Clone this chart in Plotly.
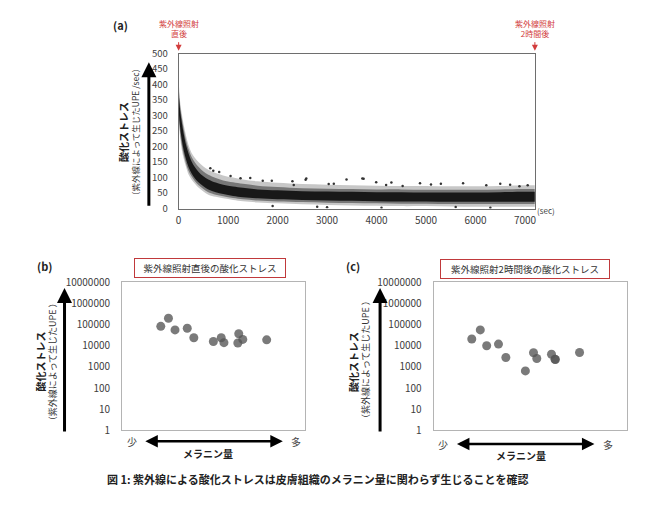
import plotly.graph_objects as go

W, H = 650, 515
FONT = "Noto Sans CJK JP"

# ---------------- data (a): UPE decay cloud, envelopes ----------------
t_env = [0, 30, 60, 100, 150, 200, 260, 330, 400, 500, 600, 750, 900, 1100, 1300,
         1600, 2000, 2500, 3000, 3500, 4000, 4500, 5000, 5500, 6000, 6500, 7000, 7200]
outer_upper = [415, 345, 310, 272, 235, 205, 180, 163, 150, 136, 125, 115, 107, 100, 94,
               88, 83, 79, 77, 75, 74, 73, 73, 72, 72, 73, 75, 75]
mid_upper = [395, 332, 296, 258, 220, 192, 167, 149, 135, 120, 109, 99, 91, 85, 80,
             74, 70, 66, 64, 63, 62, 62, 61, 61, 61, 62, 63, 63]
core_upper = [375, 318, 282, 243, 205, 178, 153, 133, 119, 104, 94, 84, 77, 71, 67,
              62, 59, 56, 55, 54, 53, 53, 52, 52, 52, 53, 54, 54]
core_lower = [318, 262, 226, 190, 158, 134, 114, 97, 85, 72, 62, 53, 47, 41, 37,
              33, 30, 28, 26, 25, 24, 23, 23, 22, 22, 22, 22, 22]
mid_lower = [300, 245, 208, 175, 145, 122, 104, 88, 76, 63, 53, 45, 40, 34, 30,
             26, 23, 21, 19, 18, 17, 16, 16, 15, 15, 15, 15, 15]
outer_lower = [285, 230, 192, 162, 134, 110, 94, 80, 68, 55, 45, 38, 33, 28, 24,
               20, 17, 14, 12, 10, 9, 8, 8, 7, 6, 6, 6, 6]
# sparse outlier points
out_t = [1447, 1883, 2566, 3136, 3739, 4878, 5749, 6218, 6888, 7055, 820, 1050, 2300, 4300, 5300,
         2580, 3393, 3713, 3993, 3033, 2327, 4193, 4527, 640, 700, 1250, 1700, 5100, 6500, 6700,
         3000, 4100, 5600, 6300, 1900, 2800]
out_v = [99, 90, 93, 80, 96, 82, 82, 75, 72, 75, 118, 105, 88, 84, 80,
         97, 94, 97, 85, 79, 76, 76, 73, 130, 122, 98, 90, 78, 80, 77,
         4, 3, 5, 3, 8, 6]
a_xticks = [0, 1000, 2000, 3000, 4000, 5000, 6000, 7000]
a_yticks = [0, 50, 100, 150, 200, 250, 300, 350, 400, 450, 500]

# ---------------- data (b), (c): melanin vs UPE ----------------
b_x = [21.2, 25.4, 29.0, 35.7, 39.3, 50.0, 54.3, 55.8, 63.9, 63.4, 66.1, 79.2]
b_y = [83000, 200000, 56000, 67000, 24000, 16000, 24000, 14000, 37000, 13500, 20000, 19000]
c_x = [19.7, 24.1, 27.4, 33.5, 37.3, 47.4, 51.6, 53.3, 60.9, 62.7, 62.9, 75.4]
c_y = [21000, 56000, 10000, 12000, 2800, 650, 4700, 2500, 4000, 2300, 2250, 4800]
log_ticks = [1, 10, 100, 1000, 10000, 100000, 1000000, 10000000]
log_text = [str(v) for v in log_ticks]


def px(x):
    return x / W


def py(y):
    return 1 - y / H


fig = go.Figure()


def band(lower, upper, color):
    fig.add_trace(go.Scatter(x=t_env, y=lower, mode="lines", line=dict(width=0, shape="spline"),
                             xaxis="x", yaxis="y", showlegend=False, hoverinfo="skip"))
    fig.add_trace(go.Scatter(x=t_env, y=upper, mode="lines", line=dict(width=0, shape="spline"),
                             fill="tonexty", fillcolor=color,
                             xaxis="x", yaxis="y", showlegend=False, hoverinfo="skip"))


band(outer_lower, outer_upper, "rgba(0,0,0,0.22)")
band(mid_lower, mid_upper, "rgba(0,0,0,0.40)")
band(core_lower, core_upper, "rgba(0,0,0,0.80)")
fig.add_trace(go.Scatter(x=out_t, y=out_v, mode="markers",
                         marker=dict(size=2.5, color="#333"),
                         xaxis="x", yaxis="y", showlegend=False))

# (b), (c)
fig.add_trace(go.Scatter(x=b_x, y=b_y, mode="markers",
                         marker=dict(size=9, color="rgba(85,85,85,0.78)", line=dict(width=0)),
                         xaxis="x2", yaxis="y2", showlegend=False))
fig.add_trace(go.Scatter(x=c_x, y=c_y, mode="markers",
                         marker=dict(size=9, color="rgba(85,85,85,0.78)", line=dict(width=0)),
                         xaxis="x3", yaxis="y3", showlegend=False))

tickfont = dict(family=FONT, size=10, color="#404040")

fig.update_layout(
    width=W, height=H, margin=dict(l=0, r=0, t=0, b=0),
    paper_bgcolor="white", plot_bgcolor="white",
    font=dict(family=FONT),
    xaxis=dict(domain=[px(177), px(536)], anchor="y", range=[0, 7200],
               tickvals=a_xticks, showgrid=False, zeroline=False,
               showline=True, mirror=True, linecolor="#6e6e6e", linewidth=1,
               ticks="", tickfont=tickfont, ticklabelstandoff=2),
    yaxis=dict(domain=[py(206), py(46)], anchor="x", range=[0, 500],
               tickvals=a_yticks, showgrid=False, zeroline=False,
               showline=True, mirror=True, linecolor="#6e6e6e", linewidth=1,
               ticks="", tickfont=dict(family=FONT, size=9.5, color="#404040"),
               ticklabelstandoff=8),
    xaxis2=dict(domain=[px(120), px(304)], anchor="y2", range=[0, 100],
                showticklabels=False, showgrid=False, zeroline=False,
                showline=True, mirror=True, linecolor="#b4b4b4", linewidth=1, ticks=""),
    yaxis2=dict(domain=[py(435), py(282)], anchor="x2", type="log", range=[0, 7],
                tickvals=log_ticks, ticktext=log_text, showgrid=False, zeroline=False,
                showline=True, mirror=True, linecolor="#b4b4b4", linewidth=1, ticks="",
                tickfont=tickfont, ticklabelstandoff=9),
    xaxis3=dict(domain=[px(434), px(629)], anchor="y3", range=[0, 100],
                showticklabels=False, showgrid=False, zeroline=False,
                showline=True, mirror=True, linecolor="#b4b4b4", linewidth=1, ticks=""),
    yaxis3=dict(domain=[py(435), py(282)], anchor="x3", type="log", range=[0, 7],
                tickvals=log_ticks, ticktext=log_text, showgrid=False, zeroline=False,
                showline=True, mirror=True, linecolor="#b4b4b4", linewidth=1, ticks="",
                tickfont=tickfont, ticklabelstandoff=9),
)

ann = []


def text(x, y, s, size=10, color="#222", bold=False, angle=0, xanchor="center", **kw):
    if bold:
        s = "<b>" + s + "</b>"
    ann.append(dict(x=px(x), y=py(y), xref="paper", yref="paper", text=s, showarrow=False,
                    font=dict(family=FONT, size=size, color=color), textangle=angle,
                    xanchor=xanchor, yanchor="middle", **kw))


def arrow(x0, y0, x1, y1, width=3, color="black", head=2, size=1.0, both=False):
    ann.append(dict(x=px(x1), y=py(y1), xref="paper", yref="paper", ax=x0 - x1, ay=y0 - y1,
                    axref="pixel", ayref="pixel", text="", showarrow=True,
                    arrowhead=head, arrowsize=size, arrowwidth=width, arrowcolor=color,
                    startarrowhead=head, startarrowsize=size,
                    arrowside="end+start" if both else "end"))


RED = "#d23c3c"
# panel (a)
text(118, 17, "(a)", size=11, bold=True)
text(177, 20.5, "紫外線照射<br>直後", size=8, color=RED)
text(536, 20.5, "紫外線照射<br>2時間後", size=8, color=RED)
arrow(177, 33, 177, 43, width=1, color=RED, head=2, size=1.2)
arrow(536, 33, 536, 43, width=1, color=RED, head=2, size=1.2)
text(547, 208, "(sec)", size=8, color="#404040", xanchor="center")
arrow(147, 200, 147, 55, width=3)
text(121, 127, "酸化ストレス", size=10, bold=True, angle=-90)
text(133, 127, "（紫外線によって生じたUPE /sec）", size=8.5, color="#333", angle=-90)

# panel (b)
text(42, 265, "(b)", size=11, bold=True)
ann.append(dict(x=px(208.5), y=py(267), xref="paper", yref="paper",
                text="紫外線照射直後の酸化ストレス", showarrow=False,
                font=dict(family=FONT, size=9.5, color="#333"),
                bordercolor="#c0393b", borderwidth=1, borderpad=2, bgcolor="white",
                width=146, height=14, xanchor="center", yanchor="middle"))
arrow(62, 433, 62, 288, width=3)
text(38, 364, "酸化ストレス", size=10, bold=True, angle=-90)
text(50, 364, "（紫外線によって生じたUPE ）", size=9, color="#333", angle=-90)
text(130, 446, "少", size=10, color="#444")
arrow(143, 446, 282, 446, width=2.5, both=True, size=1.0)
text(295, 446, "多", size=10, color="#444")
text(207, 459, "メラニン量", size=10, bold=True)

# panel (c)
text(353, 265, "(c)", size=11, bold=True)
ann.append(dict(x=px(526.5), y=py(268), xref="paper", yref="paper",
                text="紫外線照射2時間後の酸化ストレス", showarrow=False,
                font=dict(family=FONT, size=9.5, color="#333"),
                bordercolor="#c0393b", borderwidth=1, borderpad=2, bgcolor="white",
                width=164, height=14, xanchor="center", yanchor="middle"))
arrow(380, 433, 380, 288, width=3)
text(353, 364, "酸化ストレス", size=10, bold=True, angle=-90)
text(366, 362, "（紫外線によって生じたUPE ）", size=9, color="#333", angle=-90)
text(443, 449, "少", size=10, color="#444")
arrow(457, 449, 596, 449, width=2.5, both=True, size=1.0)
text(610, 449, "多", size=10, color="#444")
text(522, 461, "メラニン量", size=10, bold=True)

# caption
text(103, 485, "図 1: 紫外線による酸化ストレスは皮膚組織のメラニン量に関わらず生じることを確認",
     size=11, bold=True, color="#222", xanchor="left")

fig.update_layout(annotations=ann)
fig.write_html("out.html")
